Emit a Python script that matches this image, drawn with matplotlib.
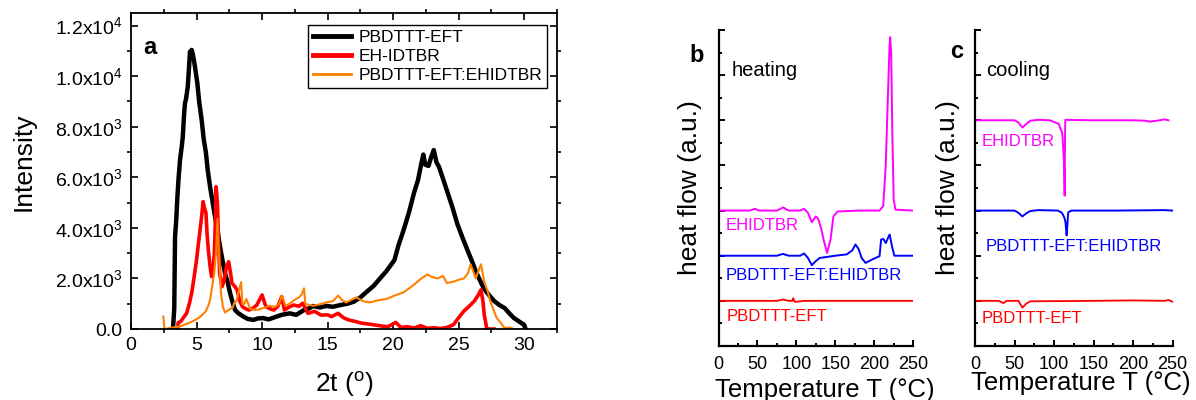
import matplotlib
matplotlib.use("Agg")
import matplotlib.pyplot as plt
from matplotlib.ticker import MultipleLocator, FixedLocator

plt.rcParams["font.family"] = ["Liberation Sans", "DejaVu Sans"]
plt.rcParams["mathtext.fontset"] = "custom"
plt.rcParams["mathtext.rm"] = "Liberation Sans"
plt.rcParams["mathtext.default"] = "regular"

# ---- panel a: XRD ----
black_x = [3.2, 3.3, 3.36, 3.45, 3.54, 3.62, 3.74, 3.87, 3.95, 4.05, 4.12, 4.2, 4.33, 4.42, 4.5,
           4.58, 4.63, 4.7, 4.8, 4.9, 5.06, 5.2, 5.39, 5.55, 5.72, 5.85, 6.03, 6.2, 6.41, 6.6,
           6.79, 6.95, 7.17, 7.35, 7.56, 7.75, 7.94, 8.2, 8.58, 8.9, 9.34, 9.7, 10.1, 10.5, 11.1,
           11.5, 12.1, 12.6, 13.2, 13.6, 13.9, 14.4, 14.9, 15.4, 16.0, 16.5, 17.0, 17.5, 18.0,
           18.5, 19.0, 19.5, 20.1, 20.4, 20.8, 21.2, 21.6, 21.9, 22.1, 22.3, 22.45, 22.7, 22.9,
           23.1, 23.3, 23.5, 23.8, 24.1, 24.5, 24.9, 25.3, 25.7, 26.0, 26.3, 26.6, 26.9, 27.3,
           27.7, 28.1, 28.5, 28.9, 29.2, 29.6, 30.0, 30.1]
black_y = [0, 800, 3650, 4300, 5230, 5900, 6690, 7210, 7600, 8500, 8940, 9100, 9590, 10300, 10970,
           10800, 11040, 10900, 10640, 10300, 9730, 9000, 8270, 7500, 6960, 6300, 5630, 5100, 4440, 3900,
           3260, 2800, 2210, 1900, 1420, 1050, 750, 620, 490, 400, 360, 420, 430, 380, 490,
           560, 620, 560, 750, 820, 910, 850, 910, 880, 950, 1000, 1080, 1250, 1480,
           1700, 2000, 2300, 2730, 3300, 3920, 4600, 5400, 5900, 6420, 6900, 6500, 6450, 6800,
           7080, 6600, 6410, 5950, 5480, 4850, 4150, 3600, 3080, 2700, 2290, 1950, 1620, 1350,
           1110, 950, 830, 600, 440, 300, 160, 0]

red_x = [3.55, 3.6, 3.8, 4.0, 4.24, 4.45, 4.63, 4.8, 5.0, 5.15, 5.27, 5.4, 5.5, 5.6, 5.72, 5.8,
         5.9, 6.05, 6.15, 6.25, 6.36, 6.45, 6.49, 6.55, 6.6, 6.68, 6.76, 6.94, 7.1, 7.28, 7.45,
         7.6, 7.7, 7.9, 8.1, 8.3, 8.5, 8.75, 9.0, 9.3, 9.6, 9.85, 10.0, 10.15, 10.3, 10.6, 10.9,
         11.2, 11.5, 11.7, 12.0, 12.4, 12.8, 13.1, 13.5, 14.0, 14.5, 15.0, 15.3, 15.8, 16.2, 16.6,
         17.1, 17.6, 18.1, 18.6, 19.1, 19.6, 20.2, 20.6, 21.1, 21.6, 22.1, 22.6, 23.1, 23.6, 24.1,
         24.6, 25.0, 25.4, 25.8, 26.2, 26.5, 26.7, 26.85, 26.95, 27.15, 27.4, 27.7]
red_y = [0, 250, 300, 450, 620, 1000, 1420, 2000, 2730, 3400, 3920, 4500, 5040, 4800, 4590, 3800,
         3120, 2400, 2070, 2300, 3000, 4500, 5630, 5300, 4840, 3500, 2210, 1670, 1900, 2460, 2660,
         2200, 1810, 1700, 1540, 1100, 880, 800, 750, 820, 950, 1200, 1350, 1100, 880, 800, 750,
         900, 1280, 750, 850, 950, 900, 1020, 620, 700, 550, 560, 490, 620, 450, 360,
         300, 230, 200, 160, 120, 90, 260, 60, 90, 40, 130, 30, 50, 20, 60,
         170, 450, 710, 900, 1110, 1350, 1550, 1100, 560, 0, 0, 0]

orange_x = [2.47, 2.5, 2.55, 3.2, 3.7, 4.24, 4.6, 5.0, 5.25, 5.5, 5.7, 5.9, 6.05, 6.2, 6.35, 6.49,
            6.6, 6.7, 6.86, 7.0, 7.17, 7.35, 7.56, 7.75, 7.9, 8.05, 8.2, 8.4, 8.5, 8.65, 8.8, 9.1,
            9.5, 9.85, 10.2, 10.6, 11.0, 11.3, 11.5, 11.8, 12.1, 12.4, 12.8, 13.0, 13.2, 13.3, 13.6,
            13.9, 14.4, 14.9, 15.4, 15.8, 16.1, 16.4, 16.8, 17.2, 17.7, 18.2, 18.6, 19.0, 19.5, 20.0,
            20.3, 20.8, 21.2, 21.6, 22.1, 22.6, 23.0, 23.4, 23.8, 24.1, 24.6, 25.0, 25.4, 25.7, 25.9,
            26.1, 26.3, 26.5, 26.7, 26.95, 27.2, 27.4, 27.7, 27.9, 28.2, 28.5, 28.9, 29.2, 29.3]
orange_y = [490, 300, 0, 60, 100, 200, 280, 390, 470, 590, 700, 920, 1200, 1710, 2200, 3030,
            4350, 3030, 1450, 900, 650, 720, 790, 850, 1050, 1100, 1450, 1850, 980, 1000, 1190, 790,
            750, 790, 850, 920, 880, 1000, 1320, 920, 1000, 1120, 1250, 1350, 1610, 990, 950,
            920, 980, 1050, 1100, 1320, 1150, 1050, 1150, 1250, 1100, 1050, 1100, 1150, 1190, 1300,
            1360, 1450, 1600, 1760, 1980, 2160, 2050, 2000, 2100, 1820, 1870, 1950, 2000, 2200, 2560,
            2300, 2000, 2300, 2560, 1870, 1500, 1110, 700, 440, 250, 40, 60, 0, 0]

xrd_labels = ["PBDTTT-EFT", "EH-IDTBR", "PBDTTT-EFT:EHIDTBR"]
y_ticks_a = [0, 2000, 4000, 6000, 8000, 10000, 12000]
y_ticklabels_a = ["0.0", "2.0x10$^3$", "4.0x10$^3$", "6.0x10$^3$", "8.0x10$^3$",
                  "1.0x10$^4$", "1.2x10$^4$"]

# ---- panel b: DSC heating ----
heat_red_T = [0, 40, 75, 83, 90, 95, 96, 98, 100, 110, 150, 200, 250]
heat_red_y = [1.0, 1.0, 1.0, 1.03, 1.0, 1.0, 1.06, 0.98, 0.98, 1.0, 1.0, 1.0, 1.0]
heat_mag_T = [0, 40, 47, 52, 75, 83, 90, 105, 110, 115, 120, 125, 128, 132, 135, 139.6, 144, 147.7,
              153, 180, 207, 211.7, 214.9, 217.6, 219.8, 220.7, 222, 223.4, 225.2, 227.5, 250]
heat_mag_y = [3.0, 3.0, 3.04, 3.0, 3.0, 3.07, 3.0, 3.0, 3.04, 2.95, 2.74, 2.87, 2.82, 2.6, 2.36, 2.06,
              2.36, 2.87, 2.98, 3.0, 3.0, 3.1, 3.98, 5.45, 6.63, 6.84, 6.48, 4.72, 3.24, 3.02, 3.0]
heat_blue_T = [0, 75, 83, 90, 105, 110, 115, 120, 125, 130, 150, 165, 172, 176, 180, 184, 189, 198,
               207, 209, 212, 215, 218, 220, 223, 226, 250]
heat_blue_y = [2.0, 2.0, 2.04, 2.0, 2.0, 2.05, 1.95, 1.79, 1.88, 1.95, 2.0, 2.03, 2.12, 2.25, 2.15,
               1.95, 1.84, 1.92, 1.99, 2.36, 2.37, 2.28, 2.4, 2.47, 2.21, 2.0, 2.0]

# ---- panel c: DSC cooling ----
cool_red_T = [0, 30, 36, 40, 55, 60, 65, 70, 150, 200, 240, 245, 250]
cool_red_y = [1.0, 1.0, 0.95, 1.0, 1.0, 0.85, 0.94, 0.99, 1.0, 1.01, 1.0, 1.02, 0.98]
cool_mag_T = [0, 50, 55, 60, 65, 70, 80, 95, 105.9, 110.4, 112.6, 113.5, 113.9, 114.3, 150, 200,
              215, 222, 230, 240, 245]
cool_mag_y = [5.0, 5.0, 4.95, 4.84, 4.92, 4.99, 5.01, 5.0, 4.92, 4.72, 4.13, 3.33, 4.5, 5.01, 5.0,
              5.0, 4.99, 4.97, 4.99, 5.02, 5.0]
cool_blue_T = [0, 50, 55, 60, 65, 70, 80, 105, 110, 113, 114.5, 116, 117, 118, 122, 180, 240, 250]
cool_blue_y = [3.0, 3.0, 2.95, 2.87, 2.94, 2.99, 3.01, 3.0, 2.95, 2.85, 2.75, 2.45, 2.7, 2.96, 3.0,
               3.0, 3.01, 3.0]

fig = plt.figure(figsize=(11.96, 4), dpi=100)
ax_a = fig.add_axes([131 / 1196, 71 / 400, 426 / 1196, 316 / 400])
ax_b = fig.add_axes([718.5 / 1196, 54 / 400, 194.5 / 1196, 316 / 400])
ax_c = fig.add_axes([975 / 1196, 54 / 400, 197.5 / 1196, 316 / 400])

# panel a
ax_a.plot(black_x, black_y, color="black", lw=3.2, label=xrd_labels[0])
ax_a.plot(red_x, red_y, color="#ff0000", lw=2.6, label=xrd_labels[1])
ax_a.plot(orange_x, orange_y, color="#ff8000", lw=1.5, label=xrd_labels[2])
ax_a.set_xlim(0, 32.5)
ax_a.set_ylim(0, 12500)
ax_a.xaxis.set_major_locator(MultipleLocator(5))
ax_a.xaxis.set_minor_locator(MultipleLocator(2.5))
ax_a.yaxis.set_major_locator(FixedLocator(y_ticks_a))
ax_a.set_yticklabels(y_ticklabels_a)
ax_a.yaxis.set_minor_locator(MultipleLocator(1000))
ax_a.tick_params(which="major", direction="in", length=5, width=1.2, top=True, right=True,
                 labelsize=14, pad=6)
ax_a.tick_params(which="minor", direction="out", length=3, width=1.2, top=True, right=True)
for s in ax_a.spines.values():
    s.set_linewidth(1.3)
ax_a.set_ylabel("Intensity", fontsize=19)
ax_a.yaxis.set_label_coords(-0.223, 0.53)
ax_a.set_xlabel("2t ($^o$)", fontsize=19)
ax_a.xaxis.set_label_coords(0.5, -0.13)
ax_a.text(0.9, 11150, "a", fontsize=17, fontweight="bold", va="center")
leg = ax_a.legend(loc="upper right", bbox_to_anchor=(0.977, 0.962), fontsize=12.5,
                  frameon=True, fancybox=False, edgecolor="black", framealpha=1,
                  handlelength=2.2, handletextpad=0.4, labelspacing=0.2, borderpad=0.3,
                  borderaxespad=0)
leg.get_frame().set_linewidth(1.0)
for h in leg.get_lines():
    h.set_linewidth(3.5 if h.get_color() != "#ff8000" else 2.0)

# panels b and c
def dsc_axes(ax):
    ax.set_xlim(0, 250)
    ax.set_ylim(0, 7)
    ax.spines["top"].set_visible(False)
    ax.spines["right"].set_visible(False)
    ax.spines["left"].set_linewidth(1.6)
    ax.spines["bottom"].set_linewidth(1.6)
    ax.xaxis.set_major_locator(MultipleLocator(50))
    ax.xaxis.set_minor_locator(MultipleLocator(25))
    ax.yaxis.set_major_locator(MultipleLocator(1))
    ax.yaxis.set_minor_locator(MultipleLocator(0.5))
    ax.tick_params(which="major", direction="in", length=4, width=1.4, labelsize=13, pad=7)
    ax.tick_params(which="minor", direction="in", length=2.5, width=1.4)
    ax.tick_params(axis="y", labelleft=False)
    ax.set_ylabel("heat flow (a.u.)", fontsize=19)
    ax.set_xlabel("Temperature T (\u00b0C)", fontsize=18.5)

dsc_axes(ax_b)
ax_b.plot(heat_red_T, heat_red_y, color="#ff0000", lw=1.3)
ax_b.plot(heat_blue_T, heat_blue_y, color="#0000ff", lw=1.4)
ax_b.plot(heat_mag_T, heat_mag_y, color="#ff00ff", lw=1.4)
ax_b.text(17, 6.11, "heating", fontsize=14.5, va="center")
ax_b.text(8.9, 2.66, "EHIDTBR", fontsize=12, color="#ff00ff", va="center")
ax_b.text(8.9, 1.57, "PBDTTT-EFT:EHIDTBR", fontsize=12, color="#0000ff", va="center")
ax_b.text(10.6, 0.66, "PBDTTT-EFT", fontsize=12, color="#ff0000", va="center")
ax_b.yaxis.set_label_coords(-0.085, 0.5)
ax_b.xaxis.set_label_coords(0.548, -0.1)

dsc_axes(ax_c)
ax_c.plot(cool_red_T, cool_red_y, color="#ff0000", lw=1.3)
ax_c.plot(cool_blue_T, cool_blue_y, color="#0000ff", lw=1.4)
ax_c.plot(cool_mag_T, cool_mag_y, color="#ff00ff", lw=1.4)
ax_c.text(13.8, 6.11, "cooling", fontsize=14.5, va="center")
ax_c.text(8.4, 4.53, "EHIDTBR", fontsize=12, color="#ff00ff", va="center")
ax_c.text(12.9, 2.2, "PBDTTT-EFT:EHIDTBR", fontsize=12, color="#0000ff", va="center")
ax_c.text(8.4, 0.6, "PBDTTT-EFT", fontsize=12, color="#ff0000", va="center")
ax_c.yaxis.set_label_coords(-0.076, 0.5)
ax_c.xaxis.set_label_coords(0.537, -0.078)

fig.text(697 / 1196, 1 - 56 / 400, "b", fontsize=17, fontweight="bold", ha="center", va="center")
fig.text(957 / 1196, 1 - 52 / 400, "c", fontsize=17, fontweight="bold", ha="center", va="center")

fig.savefig("out.png", dpi=100)
